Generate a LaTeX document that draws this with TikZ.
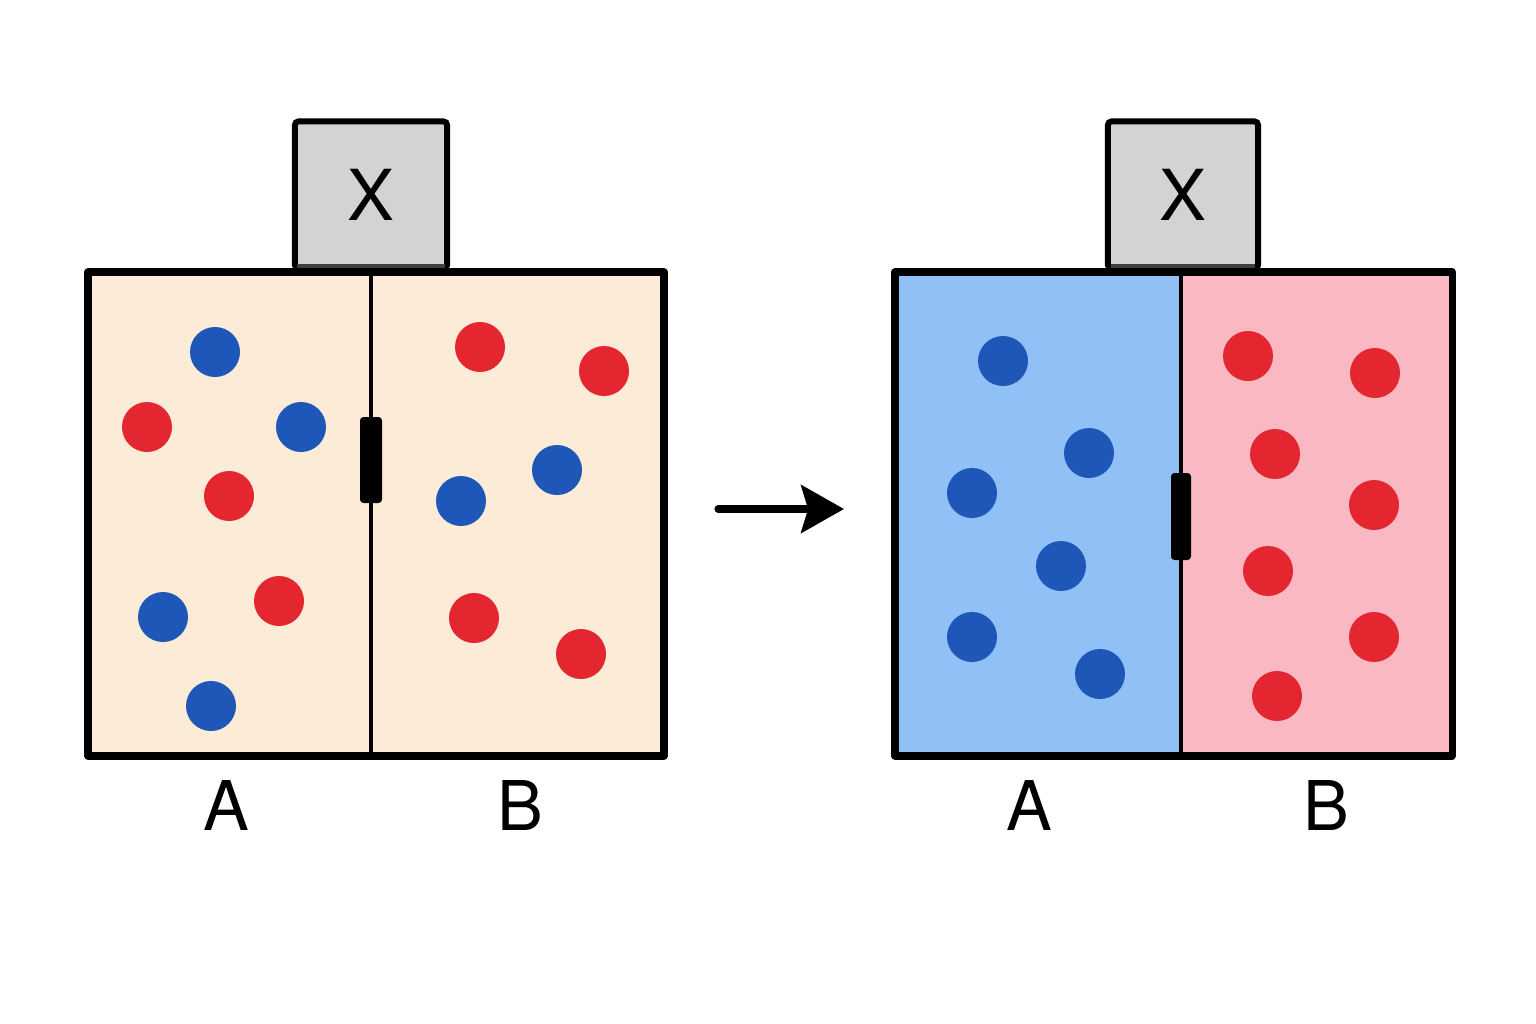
\documentclass[tikz,border=0pt]{standalone}
\usepackage{fontspec}
\setmainfont{TeX Gyre Heros}
\usetikzlibrary{arrows.meta}
\definecolor{beige}{HTML}{FBEBD7}
\definecolor{gasA}{HTML}{90C0F5}
\definecolor{gasB}{HTML}{F9B8C2}
\definecolor{molA}{HTML}{1F57B8}
\definecolor{molB}{HTML}{E3262F}
\definecolor{valve}{HTML}{D3D3D3}
\tikzset{
    wall/.style={line width=2pt,line join=round},
    valvebox/.style={draw,line width=1.7pt,fill=valve,rounded corners=1pt,minimum width=1.52cm,minimum height=1.47cm,inner sep=0pt,font=\fontsize{20}{22}\selectfont},
    handle/.style={fill=black,rounded corners=1pt},
    lbl/.style={font=\fontsize{19.5}{22}\selectfont}
}
\begin{document}
\begin{tikzpicture}[x=0.01cm,y=-0.01cm]
\useasboundingbox (0,0) rectangle (1536,1024);
\fill[white] (0,0) rectangle (1536,1024);

%%% LEFT CONTAINER %%%
\fill[beige] (88,272) rectangle (664,756);
\node[valvebox] (XL) at (371,195) {X}; % valve
\draw[line width=1.6pt,black!75] (297,267) -- (445,267); % valve foot
\draw[line width=1.4pt] (371,272) -- (371,756); % partition
\fill[handle] (360,417) rectangle (382,503); % handle
\foreach \p in {(215,352),(301,427),(163,617),(211,706),(461,501),(557,470)}
    \fill[molA] \p circle [radius=25];
\foreach \p in {(147,427),(229,496),(279,601),(480,347),(604,371),(474,618),(581,654)}
    \fill[molB] \p circle [radius=25];
\draw[wall] (88,272) rectangle (664,756); % walls
\node[lbl] (AL) at (226,805) {A};
\node[lbl] (BL) at (520,805) {B};

%%% ARROW %%%
\coordinate (S) at (718,509);
\coordinate (E) at (844,509);
\draw[line width=2pt,line cap=round,-{Stealth[length=12.2pt,width=13.6pt,inset=2pt]}] (S) -- (E);

%%% RIGHT CONTAINER %%%
\fill[gasA] (895,272) rectangle (1181,756);
\fill[gasB] (1181,272) rectangle (1452,756);
\node[valvebox,minimum width=1.5cm] (XR) at (1183,195) {X}; % valve
\draw[line width=1.6pt,black!75] (1111,267) -- (1255,267); % valve foot
\draw[line width=1.4pt] (1181,272) -- (1181,756); % partition
\fill[handle] (1171,473) rectangle (1191,560); % handle
\foreach \p in {(1003,361),(1089,453),(972,493),(1061,566),(972,637),(1100,674)}
    \fill[molA] \p circle [radius=25];
\foreach \p in {(1248,356),(1375,373),(1275,454),(1374,505),(1268,571),(1374,637),(1277,696)}
    \fill[molB] \p circle [radius=25];
\draw[wall] (895,272) rectangle (1452,756); % walls
\node[lbl] (AR) at (1029,805) {A};
\node[lbl] (BR) at (1326,805) {B};
\end{tikzpicture}
\end{document}
